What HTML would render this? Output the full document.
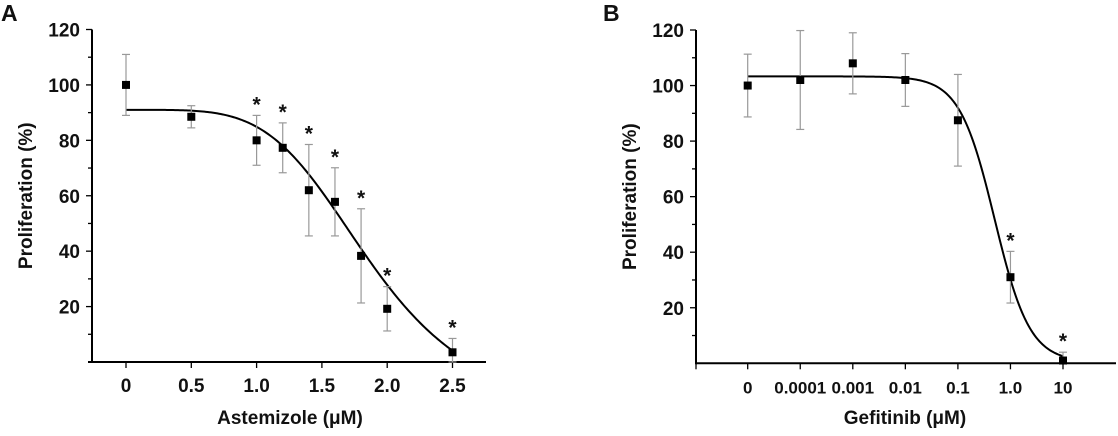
<!DOCTYPE html>
<html><head><meta charset="utf-8"><style>
body{margin:0;background:#fff}
svg text{font-family:"Liberation Sans",Arial,sans-serif;font-weight:bold;fill:#111}
</style></head><body>
<svg id="s" width="1118" height="431" viewBox="0 0 1118 431"></svg>
<script>
const aDoses=[0,0.5,1.0,1.2,1.4,1.6,1.8,2.0,2.5];
const aValues=[100,88.5,80,77.3,62,57.8,38.3,19.2,3.5];
const aErrors=[11,4,9,9,16.5,12.3,17,8,5];
const aStars=[false,false,true,true,true,true,true,true,true];
const aXTicks=[0,0.5,1.0,1.5,2.0,2.5];
const aXTickLabels=["0","0.5","1.0","1.5","2.0","2.5"];
const yTicks=[20,40,60,80,100,120];
const bCategories=["0","0.0001","0.001","0.01","0.1","1.0","10"];
const bDoses=[0,0.0001,0.001,0.01,0.1,1,10];
const bValues=[100,102,108,102,87.5,31,1];
const bErrors=[11.3,17.8,11,9.5,16.5,9.3,3];
const bStars=[false,false,false,false,false,true,true];
const aFit={top:91,bottom:-20,ic50:1.88,hill:4.5};
const bFit={top:103.3,bottom:0.5,ic50:0.5,hill:1.3};

const S=document.getElementById('s');const NS='http://www.w3.org/2000/svg';
function mk(t,a,txt,name){const e=document.createElementNS(NS,t);for(const k in a)e.setAttribute(k,a[k]);if(txt!==undefined)e.textContent=txt;


S.appendChild(e);return e;}

function panel(o){
 const ys=v=>o.y0-(v)*(o.y0-o.y120)/120;
 mk('text',{x:o.lx,y:21,'font-size':23},o.letter,'panel-label');
 mk('line',{x1:o.ax,y1:o.y120,x2:o.ax,y2:o.y0+1,stroke:'#000','stroke-width':2},undefined,'y-axis');
 mk('line',{x1:o.x1,y1:o.y0,x2:o.x2,y2:o.y0,stroke:'#000','stroke-width':2},undefined,'x-axis');
 for(let v=10;v<=120;v+=10){const y=ys(v);mk('line',{x1:o.ax-(v%20?4:6),y1:y,x2:o.ax,y2:y,stroke:'#000','stroke-width':1.3},undefined,'y-tick');}
 yTicks.forEach(v=>mk('text',{x:o.ax-12,y:ys(v)+7,'font-size':19,'text-anchor':'end'},String(v),'y-tick-label'));
 mk('text',{x:0,y:0,'font-size':19,'text-anchor':'middle',transform:`translate(${o.ax-60},${(o.y0+o.y120)/2}) rotate(-90)`},'Proliferation (%)','y-axis-title');
 o.xt.forEach((t,i)=>{const x=o.xs(t.v);mk('line',{x1:x,y1:o.y0,x2:x,y2:o.y0+6,stroke:'#000','stroke-width':1.3},undefined,'x-tick');
   mk('text',{x:x,y:o.y0+30,'font-size':o.xfs,'text-anchor':'middle'},t.l,'x-tick-label');});
 if(o.extraTick)mk('line',{x1:o.extraTick,y1:o.y0,x2:o.extraTick,y2:o.y0+6,stroke:'#000','stroke-width':1.3},undefined,'x-tick');
 mk('text',{x:o.titleX,y:424,'font-size':19,'text-anchor':'middle'},o.title,'x-axis-title');
 let d='';for(let i=0;i<=200;i++){const p=o.cx0+(o.cx1-o.cx0)*i/200;const v=o.fitY(p);d+=(i?'L':'M')+o.cpx(p).toFixed(2)+','+ys(v).toFixed(2);}
 mk('path',{d:d,fill:'none',stroke:'#000','stroke-width':2},undefined,'fit-curve');
 o.vals.forEach((v,i)=>{const x=o.px(i);const hi=ys(v+o.err[i]),lo=ys(Math.max(v-o.err[i],0));
  mk('line',{x1:x,y1:hi,x2:x,y2:lo,stroke:'#999','stroke-width':1.2},undefined,'error-bar');
  mk('line',{x1:x-4,y1:hi,x2:x+4,y2:hi,stroke:'#999','stroke-width':1.2},undefined,'error-cap');
  mk('line',{x1:x-4,y1:lo,x2:x+4,y2:lo,stroke:'#999','stroke-width':1.2},undefined,'error-cap');
  mk('rect',{x:x-4,y:ys(v)-4,width:8,height:8,fill:'#000'},undefined,'data-point');
  if(o.stars[i])mk('text',{x:x,y:hi-4,'font-size':21,'text-anchor':'middle'},'*','significance-star');});
}
const aXs=v=>126+v*130.6;
panel({letter:'A',lx:1,ax:92,y0:362,y120:29.5,x1:88,x2:486,xs:aXs,xfs:19,
 xt:aXTicks.map((v,i)=>({v:v,l:aXTickLabels[i]})),title:'Astemizole (\u03bcM)',titleX:290,
 vals:aValues,err:aErrors,stars:aStars,px:i=>aXs(aDoses[i]),
 cx0:0,cx1:2.5,cpx:aXs,fitY:x=>aFit.bottom+(aFit.top-aFit.bottom)/(1+Math.pow(x/aFit.ic50,aFit.hill))});
const bIdx=d=>d===0?0:Math.log10(d)+5;
const bXs=i=>747.7+i*52.55;
panel({letter:'B',lx:603,ax:696,y0:363.3,y120:30,x1:696,x2:1116,xs:bXs,extraTick:696,xfs:17,
 xt:bCategories.map((l,i)=>({v:i,l:l})),title:'Gefitinib (\u03bcM)',titleX:905,
 vals:bValues,err:bErrors,stars:bStars,px:i=>bXs(bIdx(bDoses[i])),
 cx0:0,cx1:6,cpx:bXs,fitY:p=>{const x=Math.pow(10,p-5);return bFit.bottom+(bFit.top-bFit.bottom)/(1+Math.pow(x/bFit.ic50,bFit.hill));}});
</script>
</body></html>
